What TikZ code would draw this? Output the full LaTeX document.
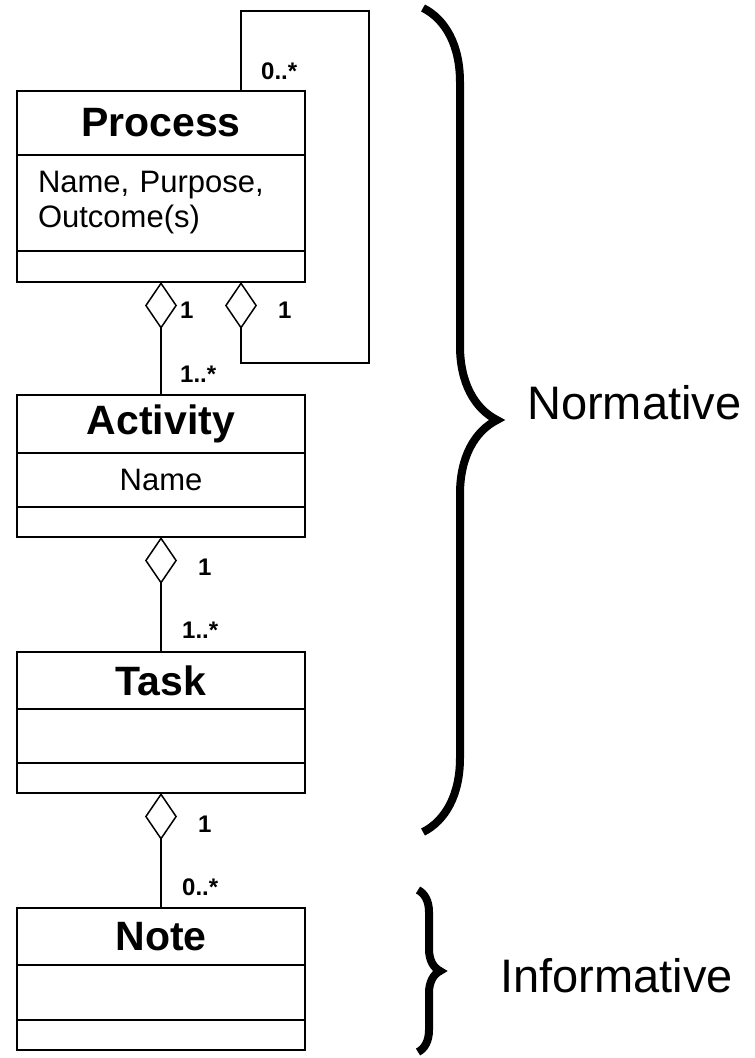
\documentclass[tikz,border=0pt]{standalone}
\usepackage{fontspec}
\setmainfont{Liberation Sans}
\usetikzlibrary{positioning, arrows.meta, decorations.pathreplacing}

\tikzset{
  box/.style={draw, line width=2.5pt, outer sep=0pt, inner sep=0pt, minimum width=288pt},
  classname/.style={box, font=\fontsize{41}{48}\selectfont\bfseries},
  attrs/.style={box, font=\fontsize{31}{35}\selectfont},
  aggr/.style={line width=1.5pt, -{Diamond[open, length=47pt, width=32pt]}},
  mult/.style={font=\fontsize{24}{28}\selectfont\bfseries, inner sep=0pt, anchor=base west},
  side/.style={font=\fontsize{47}{56}\selectfont, inner sep=0pt, anchor=base west},
  bigbrace/.style={decorate, decoration={brace, amplitude=#1}, line width=8pt}
}

\begin{document}
\begin{tikzpicture}[x=1pt, y=-1pt]
        \useasboundingbox (0,0) rectangle (755,1058);

        %classe Process
        \node[classname, minimum height=64pt] (procT) at (161,123) {Process};
        \node[attrs, minimum height=96pt, below=0pt of procT, text width=246pt, align=left, inner xsep=21pt] (procA) {Name, Purpose,\\Outcome(s)};
        \node[box, minimum height=31pt, below=0pt of procA] (procO) {};
        %classe Activity
        \node[classname, minimum height=58pt] (actT) at (161,424) {Activity};
        \node[attrs, minimum height=54pt, below=0pt of actT] (actA) {Name};
        \node[box, minimum height=30pt, below=0pt of actA] (actO) {};
        %classe Task
        \node[classname, minimum height=57pt] (taskT) at (161,680.5) {Task};
        \node[attrs, minimum height=54pt, below=0pt of taskT] (taskA) {};
        \node[box, minimum height=30pt, below=0pt of taskA] (taskO) {};
        %classe Note
        \node[classname, minimum height=57pt] (noteT) at (161,936.5) {Note};
        \node[attrs, minimum height=55pt, below=0pt of noteT] (noteA) {};
        \node[box, minimum height=30pt, below=0pt of noteA] (noteO) {};

        %aggregazioni
        \draw[aggr] (actT.north) -- (procO.south);
        \draw[aggr] (taskT.north) -- (actO.south);
        \draw[aggr] (noteT.north) -- (taskO.south);
        %anello su Process
        \coordinate (loopTL) at (241,11);
        \coordinate (loopTR) at (369,11);
        \coordinate (loopBR) at (369,363);
        \coordinate (loopBL) at (241,363);
        \draw[aggr] (procT.north -| loopTL) -- (loopTL) -- (loopTR) -- (loopBR) -- (loopBL) -- (procO.south -| loopBL);

        %molteplicita
        \node[mult] (mLoop) at (261,79) {0..*};
        \node[mult] (mProcL) at (180,318) {1};
        \node[mult] (mProcR) at (278,318) {1};
        \node[mult] (mActTop) at (180,382) {1..*};
        \node[mult] (mActBot) at (198,575) {1};
        \node[mult] (mTaskTop) at (182,638) {1..*};
        \node[mult] (mTaskBot) at (198,832) {1};
        \node[mult] (mNoteTop) at (182,895) {0..*};

        %graffe e label
        \coordinate (normTop) at (423,8);
        \coordinate (normBot) at (423,832);
        \draw[bigbrace=74pt] (normTop) -- (normBot);
        \node[side] (norm) at (527,419) {Normative};
        \coordinate (infTop) at (418,890);
        \coordinate (infBot) at (418,1052);
        \draw[bigbrace=22pt] (infTop) -- (infBot);
        \node[side] (inf) at (500,992) {Informative};
\end{tikzpicture}
\end{document}
